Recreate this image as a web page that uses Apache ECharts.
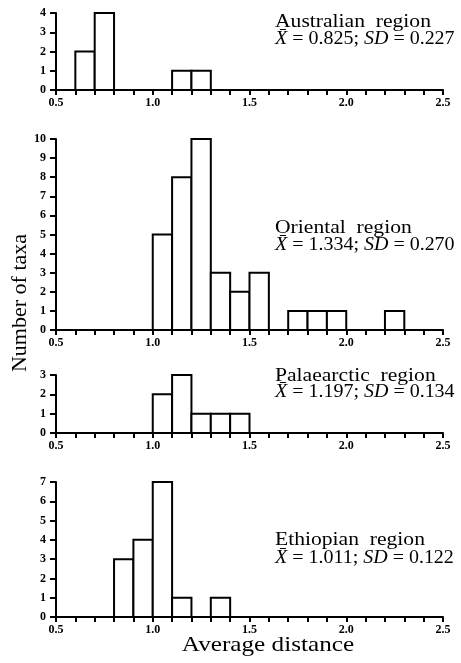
<!DOCTYPE html>
<html>
<head>
<meta charset="utf-8">
<script src="https://cdn.jsdelivr.net/npm/echarts@6/dist/echarts.min.js"></script>
<style>
  html, body { margin: 0; padding: 0; background: #fff; }
  #chart { width: 461px; height: 663px; }
</style>
</head>
<body>
<div id="chart"></div>
<script>
// bin edges (0.1 wide) from 0.5 to 2.5
const binStarts = [0.5, 0.6, 0.7, 0.8, 0.9, 1.0, 1.1, 1.2, 1.3, 1.4, 1.5, 1.6, 1.7, 1.8, 1.9, 2.0, 2.1, 2.2, 2.3, 2.4];
const binEnds = [0.6, 0.7, 0.8, 0.9, 1.0, 1.1, 1.2, 1.3, 1.4, 1.5, 1.6, 1.7, 1.8, 1.9, 2.0, 2.1, 2.2, 2.3, 2.4, 2.5];
const xTickLabels = ['0.5', '1.0', '1.5', '2.0', '2.5'];

// number of taxa per bin
const australian = [0, 2, 4, 0, 0, 0, 1, 1, 0, 0, 0, 0, 0, 0, 0, 0, 0, 0, 0, 0];
const oriental = [0, 0, 0, 0, 0, 5, 8, 10, 3, 2, 3, 0, 1, 1, 1, 0, 0, 1, 0, 0];
const palaearctic = [0, 0, 0, 0, 0, 2, 3, 1, 1, 1, 0, 0, 0, 0, 0, 0, 0, 0, 0, 0];
const ethiopian = [0, 0, 0, 3, 4, 7, 1, 0, 1, 0, 0, 0, 0, 0, 0, 0, 0, 0, 0, 0];

const regionNames = ['Australian  region', 'Oriental  region', 'Palaearctic  region', 'Ethiopian  region'];
const regionMeans = ['0.825', '1.334', '1.197', '1.011'];
const regionSDs = ['0.227', '0.270', '0.134', '0.122'];
const yMax = [4, 10, 3, 7];

const allCounts = [australian, oriental, palaearctic, ethiopian];

// panel layout (pixels)
const grids = [
  { top: 13, height: 77 },
  { top: 139, height: 191 },
  { top: 375, height: 58 },
  { top: 482, height: 135 }
];
const nameY = [22, 228, 376, 540];
const statY = [39, 245, 392, 558];

const FONT = '"Liberation Serif", "DejaVu Serif", serif';

const chart = echarts.init(document.getElementById('chart'));

const labelStyle = {
  color: '#000',
  fontFamily: FONT,
  fontWeight: 'bold',
  fontSize: 12
};

const regionTexts = [];
regionNames.forEach((name, i) => {
  regionTexts.push({
    type: 'text',
    x: 275,
    y: nameY[i],
    scaleX: 1.2,
    style: {
      text: name,
      font: '18px ' + FONT,
      fill: '#000',
      verticalAlign: 'middle'
    }
  });
  regionTexts.push({
    type: 'text',
    x: 275,
    y: statY[i],
    scaleX: 1.11,
    style: {
      text: '{i|X̄} = ' + regionMeans[i] + '; {i|SD} = ' + regionSDs[i],
      font: '18px ' + FONT,
      fill: '#000',
      verticalAlign: 'middle',
      rich: {
        i: { fontStyle: 'italic', fontSize: 18, fontFamily: FONT, fill: '#000' }
      }
    }
  });
});

const option = {
  backgroundColor: '#fff',
  animation: false,
  grid: grids.map(g => ({ left: 56, right: 18, top: g.top, height: g.height })),
  xAxis: grids.map((g, i) => ({
    type: 'value',
    gridIndex: i,
    min: 0.5,
    max: 2.5,
    interval: 0.1,
    axisLine: { show: true, onZero: false, lineStyle: { color: '#000', width: 2 } },
    axisTick: { show: true, length: 5, lineStyle: { color: '#000', width: 2 } },
    splitLine: { show: false },
    axisLabel: Object.assign({}, labelStyle, {
      margin: 7,
      showMinLabel: true,
      showMaxLabel: true,
      formatter: v => {
        const s = v.toFixed(1);
        return xTickLabels.indexOf(s) >= 0 ? s : '';
      }
    })
  })),
  yAxis: grids.map((g, i) => ({
    type: 'value',
    gridIndex: i,
    min: 0,
    max: yMax[i],
    interval: 1,
    axisLine: { show: true, lineStyle: { color: '#000', width: 2 } },
    axisTick: { show: true, length: 6, lineStyle: { color: '#000', width: 2 } },
    splitLine: { show: false },
    axisLabel: Object.assign({}, labelStyle, { margin: 10 })
  })),
  series: allCounts.map((counts, i) => ({
    type: 'custom',
    xAxisIndex: i,
    yAxisIndex: i,
    data: counts.map((c, k) => [binStarts[k], binEnds[k], c]),
    renderItem: (params, api) => {
      const c = api.value(2);
      if (!c) return null;
      const p0 = api.coord([api.value(0), c]);
      const p1 = api.coord([api.value(1), 0]);
      return {
        type: 'rect',
        shape: { x: p0[0], y: p0[1], width: p1[0] - p0[0], height: p1[1] - p0[1] },
        style: { fill: '#fff', stroke: '#000', lineWidth: 2 }
      };
    },
    z: 1
  })),
  graphic: [
    {
      type: 'text',
      x: 20,
      y: 303,
      rotation: Math.PI / 2,
      style: {
        text: 'Number of taxa',
        font: '22px ' + FONT,
        fill: '#000',
        align: 'center',
        verticalAlign: 'middle'
      }
    },
    {
      type: 'text',
      x: 268,
      y: 645,
      scaleX: 1.2,
      style: {
        text: 'Average distance',
        font: '21px ' + FONT,
        fill: '#000',
        align: 'center',
        verticalAlign: 'middle'
      }
    }
  ].concat(regionTexts)
};

chart.setOption(option);
</script>
</body>
</html>
